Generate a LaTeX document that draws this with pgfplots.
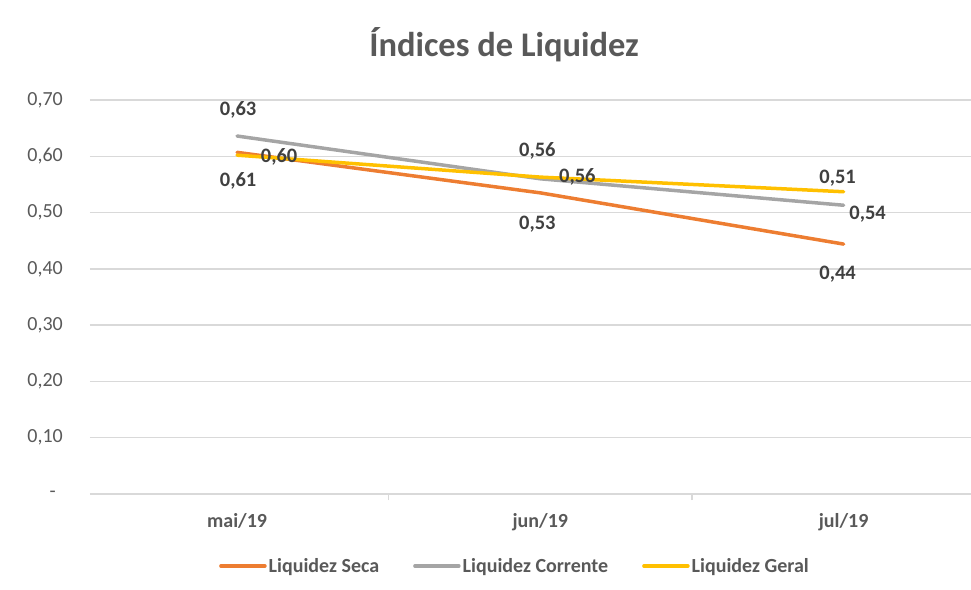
\documentclass[border=0pt]{standalone}
\usepackage{fontspec}
\setmainfont{Carlito}
\usepackage{pgfplots}
\usepackage{pgfplotstable}
\pgfplotsset{compat=1.18}
\definecolor{seca}{HTML}{ED7D31}
\definecolor{corr}{HTML}{A5A5A5}
\definecolor{geral}{HTML}{FFC000}
\definecolor{txt}{HTML}{595959}
\definecolor{lbl}{HTML}{404040}
\definecolor{grd}{HTML}{D9D9D9}

% x y label label-offset(dx,dy)
\pgfplotstableread{
x y lab dx dy
0 0.607 0,61 1 -29
1 0.535 0,53 -3 -31
2 0.444 0,44 -6 -30
}\seca
\pgfplotstableread{
x y lab dx dy
0 0.636 0,63 1 26
1 0.560 0,56 -3 28
2 0.513 0,54 24 -9
}\corrente
\pgfplotstableread{
x y lab dx dy
0 0.602 0,60 42 -2
1 0.563 0,56 37 0
2 0.537 0,51 -6 14
}\geral

\pgfplotsset{
  rotulos/.style={
    point meta=explicit symbolic,
    nodes near coords,
    visualization depends on={\thisrow{dx}\as\dx},
    visualization depends on={\thisrow{dy}\as\dy},
    every node near coord/.append style={anchor=center, xshift=\dx pt, yshift=\dy pt,
        text=lbl, font=\bfseries\fontsize{20.5}{24}\selectfont},
  },
}

\begin{document}
\begin{tikzpicture}
\useasboundingbox (-90pt,-95pt) rectangle (881pt,494pt);
\begin{axis}[
    scale only axis, width=881pt, height=394pt,
    xmin=-0.485, xmax=2.42, ymin=0, ymax=0.70,
    xtick={0,1,2}, xticklabels={mai/19,jun/19,jul/19},
    ytick={0,0.1,0.2,0.3,0.4,0.5,0.6,0.7},
    yticklabels={{-\kern7pt},{0,10},{0,20},{0,30},{0,40},{0,50},{0,60},{0,70}},
    ymajorgrids, grid style={grd, line width=1.3pt},
    axis line style={draw=none},
    xtick style={draw=none}, ytick style={draw=none},
    major tick length=0pt,
    xtick pos=bottom,
    extra x ticks={-0.5,0.5,1.5}, extra x tick labels={},
    extra x tick style={grid=none, major tick length=6pt, tick align=outside,
        xtick style={draw=grd, line width=1.3pt}},
    /pgf/number format/assume math mode=true,
    yticklabel style={font=\fontsize{20}{24}\selectfont, text=txt, inner sep=0pt, xshift=-27pt},
    xticklabel style={font=\bfseries\fontsize{20}{24}\selectfont, text=txt, inner sep=0pt, yshift=-19pt},
    title={Índices de Liquidez},
    title style={at={(0.47,1)}, anchor=base, yshift=38pt, font=\bfseries\fontsize{34.5}{40}\selectfont, text=txt},
    legend style={at={(0.4824,0)}, anchor=center, yshift=-72pt, draw=none, fill=none,
        font=\bfseries\fontsize{20}{24}\selectfont, text=txt,
        /tikz/every even column/.append style={column sep=32pt},
        nodes={inner sep=2pt}},
    legend columns=3,
    legend image code/.code={\draw[#1] (0pt,0pt) -- (44pt,0pt);},
    every axis plot/.append style={line width=3.5pt, line cap=round, line join=round},
]
\addplot[seca, rotulos] table[x=x, y=y, meta=lab] {\seca};
\addlegendentry{Liquidez Seca}
\addplot[corr, rotulos] table[x=x, y=y, meta=lab] {\corrente};
\addlegendentry{Liquidez Corrente}
\addplot[geral, rotulos] table[x=x, y=y, meta=lab] {\geral};
\addlegendentry{Liquidez Geral}
\end{axis}
\end{tikzpicture}
\end{document}
